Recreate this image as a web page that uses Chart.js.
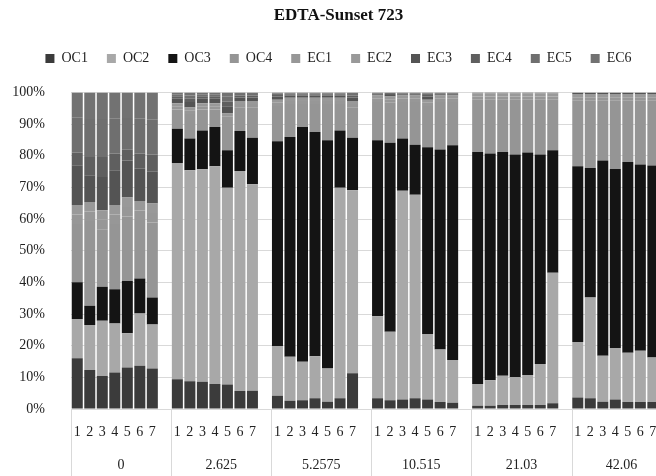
<!DOCTYPE html>
<html>
<head>
<meta charset="utf-8">
<script src="https://cdn.jsdelivr.net/npm/chart.js@4.4.1/dist/chart.umd.min.js"></script>
<style>
    html, body { margin: 0; padding: 0; background: #fff; overflow: hidden; }
    #wrap { width: 680px; height: 476px; }
</style>
</head>
<body>
<div id="wrap"><canvas id="stackChart"></canvas></div>
<script>
        // bar numbers inside each group and the group labels
        const bars = ['1', '2', '3', '4', '5', '6', '7'];
        const groups = ['0', '2.625', '5.2575', '10.515', '21.03', '42.06'];
        const yTicks = [0, 10, 20, 30, 40, 50, 60, 70, 80, 90, 100];

        // percentages, 7 bars per group, 6 groups
        const oc1 = [16.0, 12.3, 10.4, 11.5, 13.1, 13.7, 12.8,  9.4, 8.8, 8.6, 7.9, 7.7, 5.7, 5.8,  4.2, 2.6, 2.8, 3.4, 2.3, 3.4, 11.3,  3.4, 2.8, 3.0, 3.4, 3.0, 2.2, 2.0,  1.0, 1.0, 1.3, 1.3, 1.3, 1.3, 1.8,  3.6, 3.4, 2.3, 3.0, 2.2, 2.2, 2.2];
        const oc2 = [12.4, 14.2, 17.5, 15.5, 10.8, 16.5, 13.9,  68.3, 66.6, 67.1, 68.8, 62.2, 69.5, 65.2,  15.7, 13.9, 12.1, 13.3, 10.5, 66.5, 57.8,  25.9, 21.6, 65.9, 64.3, 20.7, 16.6, 13.5,  6.9, 8.1, 9.2, 8.7, 9.4, 12.9, 41.2,  17.6, 31.8, 14.5, 16.3, 15.6, 16.2, 14.1];
        const oc3 = [11.6, 6.1, 10.7, 10.8, 16.5, 11.0, 8.5,  10.8, 10.0, 12.3, 12.4, 11.8, 12.6, 14.7,  64.7, 69.4, 74.2, 70.8, 72.1, 18.1, 16.6,  55.6, 59.7, 16.5, 15.8, 59.0, 63.2, 67.8,  73.3, 71.6, 70.7, 70.4, 70.3, 66.2, 38.7,  55.5, 40.9, 61.7, 56.5, 60.2, 58.8, 60.6];
        const oc4 = [18.4, 26.8, 18.2, 20.6, 20.4, 18.5, 23.7,  6.1, 7.8, 6.6, 5.5, 9.6, 7.5, 9.6,  11.1, 10.4, 7.2, 8.8, 11.4, 8.3, 9.6,  12.1, 12.6, 11.6, 13.5, 13.0, 15.0, 13.7,  16.5, 17.0, 16.5, 17.3, 16.7, 17.3, 16.0,  20.8, 21.4, 19.0, 21.7, 19.5, 20.3, 20.6];
        const ec1 = [3, 3, 3, 3, 3, 3, 3,  1, 1, 1, 1, 1, 1, 1,  1, 1, 1, 1, 1, 1, 1,  1, 1, 1, 1, 1, 1, 1,  1, 1, 1, 1, 1, 1, 1,  1, 1, 1, 1, 1, 1, 1];
        const ec2 = [3, 3, 3, 3, 3, 3, 3,  1, 1, 1, 1, 1, 1, 1,  1, 1, 1, 1, 1, 1, 1,  1, 1, 1, 1, 1, 1, 1,  1, 1, 1, 1, 1, 1, 1,  1, 1, 1, 1, 1, 1, 1];
        const ec3 = [12.6, 8.4, 10.5, 11.0, 11.7, 10.2, 10.0,  1.4, 1.8, 1.4, 1.4, 2.3, 1.1, 1.1,  1.0, 0.7, 0.7, 0.7, 0.7, 0.7, 1.1,  0.4, 0.5, 0.4, 0.4, 1.0, 0.4, 0.4,  0.2, 0.2, 0.2, 0.2, 0.2, 0.2, 0.2,  0.3, 0.3, 0.3, 0.3, 0.3, 0.3, 0.3];
        const ec4 = [4.0, 5.8, 6.3, 5.3, 3.4, 4.8, 5.5,  0.8, 1.0, 0.8, 0.8, 1.5, 0.6, 0.6,  0.5, 0.4, 0.4, 0.4, 0.4, 0.4, 0.6,  0.2, 0.3, 0.2, 0.2, 0.5, 0.2, 0.2,  0.1, 0.1, 0.1, 0.1, 0.1, 0.1, 0.1,  0.2, 0.2, 0.2, 0.2, 0.2, 0.2, 0.2];
        const ec5 = [11, 12, 12, 11, 10, 11, 11,  0.6, 1.0, 0.6, 0.6, 1.5, 0.5, 0.5,  0.4, 0.3, 0.3, 0.3, 0.3, 0.3, 0.5,  0.2, 0.3, 0.2, 0.2, 0.4, 0.2, 0.2,  0, 0, 0, 0, 0, 0, 0,  0, 0, 0, 0, 0, 0, 0];
        const ec6 = [8.0, 8.4, 8.4, 8.3, 8.1, 8.3, 8.6,  0.6, 1.0, 0.6, 0.6, 1.4, 0.5, 0.5,  0.4, 0.3, 0.3, 0.3, 0.3, 0.3, 0.5,  0.2, 0.2, 0.2, 0.2, 0.4, 0.2, 0.2,  0, 0, 0, 0, 0, 0, 0,  0, 0, 0, 0, 0, 0, 0];

        const serif = '"Liberation Serif", "Times New Roman", serif';
        const perGroup = bars.length + 1; // one empty slot after each group

        // x labels: 1..7 then a blank slot, for every group
        const xLabels = [];
        groups.forEach(() => { bars.forEach(b => xLabels.push(b)); xLabels.push(''); });

        function withGaps(arr) {
            const out = [];
            groups.forEach((g, gi) => {
                for (let i = 0; i < bars.length; i++) out.push(arr[gi * bars.length + i]);
                out.push(null);
            });
            return out;
        }

        const series = [
            { label: 'OC1', data: oc1, color: '#3b3b3b' },
            { label: 'OC2', data: oc2, color: '#a8a8a8' },
            { label: 'OC3', data: oc3, color: '#141414' },
            { label: 'OC4', data: oc4, color: '#959595' },
            { label: 'EC1', data: ec1, color: '#979797' },
            { label: 'EC2', data: ec2, color: '#999999' },
            { label: 'EC3', data: ec3, color: '#545454' },
            { label: 'EC4', data: ec4, color: '#5f5f5f' },
            { label: 'EC5', data: ec5, color: '#6f6f6f' },
            { label: 'EC6', data: ec6, color: '#727272' }
        ];

        // light vertical lines between the groups, below the plot
        const groupLines = {
            id: 'groupLines',
            afterDraw(chart) {
                const x = chart.scales.x;
                const half = (x.getPixelForValue(1) - x.getPixelForValue(0)) / 2;
                const ctx = chart.ctx;
                ctx.save();
                ctx.strokeStyle = '#d9d9d9';
                ctx.lineWidth = 1;
                for (let g = 0; g <= groups.length; g++) {
                    const px = Math.round(x.getPixelForValue(g * perGroup) - half) + 0.5;
                    ctx.beginPath();
                    ctx.moveTo(px, chart.chartArea.bottom);
                    ctx.lineTo(px, chart.height);
                    ctx.stroke();
                }
                ctx.restore();
            }
        };

        // more room under the legend
        const legendGap = {
            id: 'legendGap',
            beforeInit(chart) {
                const fit = chart.legend.fit;
                chart.legend.fit = function () {
                    fit.bind(chart.legend)();
                    this.height = 60;
                };
            }
        };

        new Chart(document.getElementById('stackChart'), {
            type: 'bar',
            data: {
                labels: xLabels,
                datasets: series.map(s => ({
                    label: s.label,
                    data: withGaps(s.data),
                    backgroundColor: s.color,
                    borderWidth: 0,
                    barPercentage: 0.88,
                    categoryPercentage: 1.0
                }))
            },
            options: {
                responsive: true,
                maintainAspectRatio: false,
                animation: false,
                layout: { padding: { left: 0, right: 3, top: 0, bottom: 1 } },
                plugins: {
                    title: {
                        display: true,
                        text: 'EDTA-Sunset 723',
                        color: '#111',
                        font: { family: serif, size: 17, weight: 'bold' },
                        padding: { top: 5, bottom: 7 }
                    },
                    legend: {
                        position: 'top',
                        labels: {
                            boxWidth: 9,
                            boxHeight: 9,
                            padding: 19,
                            color: '#222',
                            font: { family: serif, size: 14 }
                        }
                    },
                    tooltip: { enabled: false }
                },
                scales: {
                    x: {
                        stacked: true,
                        grid: { display: false, drawTicks: false },
                        border: { display: false },
                        ticks: {
                            autoSkip: false,
                            maxRotation: 0,
                            padding: 14.6,
                            color: '#222',
                            font: { family: serif, size: 14 }
                        }
                    },
                    x2: {
                        type: 'category',
                        position: 'bottom',
                        labels: groups,
                        offset: true,
                        weight: 1,
                        grid: { display: false, drawTicks: false },
                        border: { display: false },
                        ticks: {
                            autoSkip: false,
                            maxRotation: 0,
                            padding: 1.6,
                            color: '#222',
                            font: { family: serif, size: 14 }
                        }
                    },
                    y: {
                        stacked: true,
                        min: 0,
                        max: 100,
                        afterFit: scale => { scale.width = 71; },
                        afterBuildTicks: scale => { scale.ticks = yTicks.map(v => ({ value: v })); },
                        grid: { color: '#d9d9d9', drawTicks: false },
                        border: { display: false },
                        ticks: {
                            padding: 26,
                            color: '#222',
                            font: { family: serif, size: 14 },
                            callback: v => v + '%'
                        }
                    }
                }
            },
            plugins: [groupLines, legendGap]
        });
</script>
</body>
</html>
